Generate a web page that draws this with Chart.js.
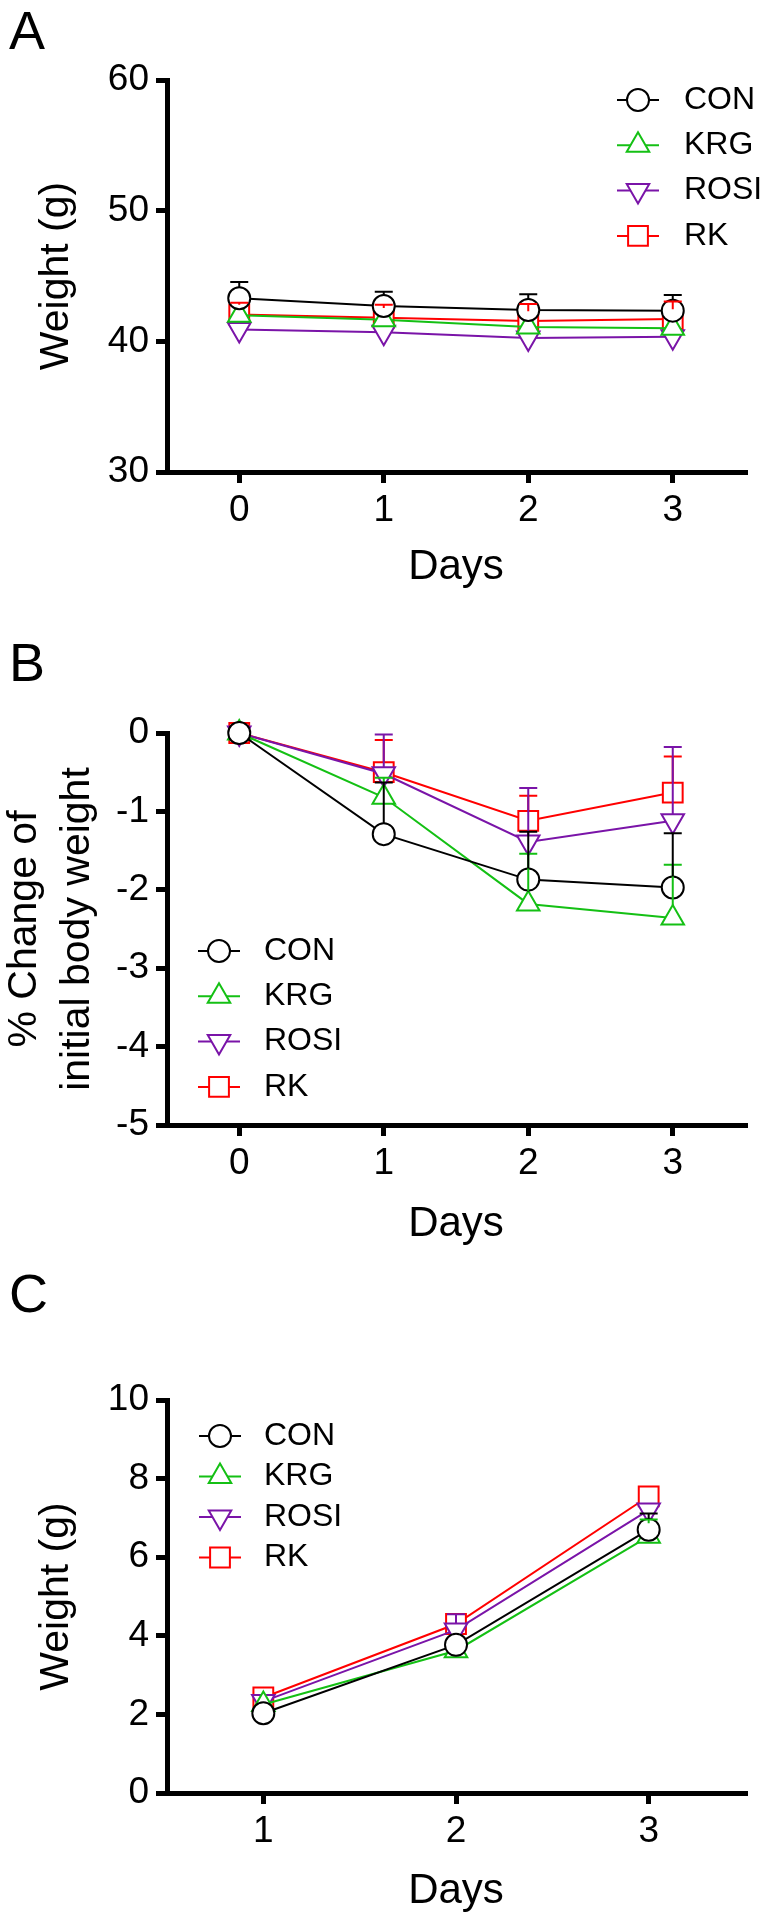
<!DOCTYPE html>
<html lang="en">
<head>
<meta charset="UTF-8">
<title>Body weight of mice</title>
<script src="https://cdn.jsdelivr.net/npm/chart.js@4.4.0/dist/chart.umd.min.js"></script>
<style>
  body { margin: 0; background: #fff; }
  #wrap { position: relative; width: 761px; height: 1921px; }
  canvas { position: absolute; left: 0; }
</style>
</head>
<body>
<div id="wrap">
  <canvas id="chartA" width="761" height="620" style="top:0px"></canvas>
  <canvas id="chartB" width="761" height="640" style="top:620px"></canvas>
  <canvas id="chartC" width="761" height="661" style="top:1260px"></canvas>
</div>
<script>
// groups in legend order
const groups = ['CON', 'KRG', 'ROSI', 'RK'];

// A - body weight (g)
const daysA = [0, 1, 2, 3];
const weightCON = [43.3, 42.7, 42.4, 42.35];
const weightKRG = [42.0, 41.65, 41.1, 41.0];
const weightROSI = [40.9, 40.7, 40.25, 40.35];
const weightRK = [42.05, 41.8, 41.55, 41.7];
const weightSemCON = [1.25, 1.1, 1.2, 1.2];
const weightSemKRG = [0.6, 0.6, 0.6, 0.6];
const weightSemROSI = [0.5, 0.5, 0.5, 0.5];
const weightSemRK = [0.9, 1.0, 1.3, 1.35];
const ticksA = [30, 40, 50, 60];

// B - % change of initial body weight
const daysB = [0, 1, 2, 3];
const changeCON = [0, -1.29, -1.87, -1.97];
const changeKRG = [0, -0.82, -2.18, -2.36];
const changeROSI = [0, -0.52, -1.39, -1.12];
const changeRK = [0, -0.50, -1.12, -0.76];
const changeSemCON = [0, 0.66, 0.61, 0.69];
const changeSemKRG = [0, 0.25, 0.64, 0.68];
const changeSemROSI = [0, 0.50, 0.69, 0.94];
const changeSemRK = [0, 0.41, 0.32, 0.46];
const ticksB = [-5, -4, -3, -2, -1, 0];

// C - weight (g)
const daysC = [1, 2, 3];
const gainCON = [2.03, 3.77, 6.70];
const gainKRG = [2.25, 3.62, 6.53];
const gainROSI = [2.33, 4.15, 7.20];
const gainRK = [2.43, 4.30, 7.55];
const gainSemCON = [0.15, 0.2, 0.41];
const gainSemKRG = [0.1, 0.15, 0.43];
const gainSemROSI = [0.1, 0.4, 0.1];
const gainSemRK = [0.1, 0.15, 0.1];
const ticksC = [0, 2, 4, 6, 8, 10];

// look of each group
const groupColors = ['#000000', '#14c014', '#7a14a8', '#ff0000'];
const groupMarkers = ['circle', 'triangle', 'triangle', 'rect'];
const groupRotation = [0, 0, 180, 0];
const groupRadius = [11, 13, 13, 14];

Chart.defaults.font.family = "'Liberation Sans', Arial, Helvetica, sans-serif";
Chart.defaults.color = '#000';

// how far the marker reaches above its centre
function markerTop(i) {
    const r = groupRadius[i];
    if (groupMarkers[i] === 'rect') return r * Math.SQRT1_2;
    if (groupMarkers[i] === 'triangle' && groupRotation[i] === 180) return r / 2;
    return r;
}

function drawMarker(ctx, i, x, y) {
    const r = groupRadius[i];
    ctx.beginPath();
    if (groupMarkers[i] === 'circle') {
        ctx.arc(x, y, r, 0, Math.PI * 2);
    } else if (groupMarkers[i] === 'rect') {
        const s = r * Math.SQRT1_2;
        ctx.rect(x - s, y - s, 2 * s, 2 * s);
    } else {
        let a = groupRotation[i] * Math.PI / 180;
        for (let k = 0; k < 3; k++) {
            const px = x + Math.sin(a) * r, py = y - Math.cos(a) * r;
            if (k === 0) ctx.moveTo(px, py); else ctx.lineTo(px, py);
            a += 2 * Math.PI / 3;
        }
        ctx.closePath();
    }
    ctx.fill();
    ctx.stroke();
}

// upper SEM bars, drawn from the edge of the marker
const errorBars = {
    id: 'errorBars',
    afterDatasetsDraw(chart) {
        const ctx = chart.ctx;
        const yScale = chart.scales.y;
        ctx.save();
        for (let i = chart.data.datasets.length - 1; i >= 0; i--) {
            const ds = chart.data.datasets[i];
            const meta = chart.getDatasetMeta(i);
            ctx.strokeStyle = ds.borderColor;
            ctx.lineWidth = 2;
            meta.data.forEach((pt, j) => {
                const err = ds.errUp[j];
                if (!err) return;
                const yTop = yScale.getPixelForValue(ds.data[j].y + err);
                const yStart = pt.y - markerTop(i);
                if (yTop >= yStart - 1) return;
                ctx.beginPath();
                ctx.moveTo(pt.x, yStart);
                ctx.lineTo(pt.x, yTop);
                ctx.moveTo(pt.x - 9, yTop);
                ctx.lineTo(pt.x + 9, yTop);
                ctx.stroke();
            });
        }
        ctx.restore();
    }
};

// legend with the line running through the marker
const lineLegend = {
    id: 'lineLegend',
    afterDraw(chart, args, opts) {
        const ctx = chart.ctx;
        ctx.save();
        ctx.font = "32px 'Liberation Sans', Arial, sans-serif";
        ctx.textBaseline = 'middle';
        chart.data.datasets.forEach((ds, i) => {
            const y = opts.y + i * opts.step;
            ctx.strokeStyle = ds.borderColor;
            ctx.lineWidth = 2;
            ctx.beginPath();
            ctx.moveTo(opts.x - 21, y);
            ctx.lineTo(opts.x + 21, y);
            ctx.stroke();
            ctx.fillStyle = '#fff';
            drawMarker(ctx, i, opts.x, y);
            ctx.fillStyle = '#000';
            ctx.fillText(ds.label, opts.textX, y);
        });
        ctx.restore();
    }
};

const panelLetter = {
    id: 'panelLetter',
    afterDraw(chart, args, opts) {
        const ctx = chart.ctx;
        ctx.save();
        ctx.font = "54px 'Liberation Sans', Arial, sans-serif";
        ctx.fillStyle = '#000';
        ctx.textBaseline = 'alphabetic';
        ctx.fillText(opts.text, 9, opts.y);
        ctx.restore();
    }
};

function makeDatasets(days, series, sems) {
    return groups.map((name, i) => ({
        label: name,
        data: days.map((d, j) => ({ x: d, y: series[i][j] })),
        errUp: sems[i],
        borderColor: groupColors[i],
        borderWidth: 2,
        backgroundColor: '#fff',
        pointStyle: groupMarkers[i],
        pointRotation: groupRotation[i],
        pointRadius: groupRadius[i],
        pointBorderWidth: 2,
        pointBackgroundColor: '#fff',
        pointBorderColor: groupColors[i],
        tension: 0,
        clip: false
    }));
}

const axisLook = {
    border: { display: true, width: 5, color: '#000' },
    grid: { display: true, drawOnChartArea: false, drawTicks: true, tickLength: 11, lineWidth: 5, tickWidth: 5, tickColor: '#000' }
};

function makePanel(id, p) {
    return new Chart(document.getElementById(id), {
        type: 'line',
        data: { datasets: makeDatasets(p.days, p.series, p.sems) },
        options: {
            responsive: false,
            animation: false,
            events: [],
            layout: { padding: { top: p.areaTop, right: 3, left: 0, bottom: 0 } },
            plugins: {
                legend: { display: false },
                tooltip: { enabled: false },
                lineLegend: p.legend,
                panelLetter: { text: p.letter, y: p.letterY }
            },
            scales: {
                x: {
                    type: 'linear',
                    min: p.xMin,
                    max: p.xMax,
                    ...axisLook,
                    afterBuildTicks: s => { s.ticks = p.days.map(v => ({ value: v })); },
                    afterFit: s => { s.height = p.xAxisHeight; },
                    ticks: { font: { size: 37 }, padding: 6 },
                    title: { display: true, text: 'Days', font: { size: 42, lineHeight: 1.2 }, padding: { top: 0, bottom: p.xTitlePad } }
                },
                y: {
                    type: 'linear',
                    min: p.yTicks[0],
                    max: p.yTicks[p.yTicks.length - 1],
                    ...axisLook,
                    afterBuildTicks: s => { s.ticks = p.yTicks.map(v => ({ value: v })); },
                    afterFit: s => { s.width = 167; },
                    ticks: { font: { size: 37 }, padding: 7 },
                    title: { display: true, text: p.yTitle, font: { size: 41, lineHeight: p.yTitleLH }, padding: { top: p.yTitlePad, bottom: 0 } }
                }
            }
        },
        plugins: [errorBars, lineLegend, panelLetter]
    });
}

makePanel('chartA', {
    letter: 'A', letterY: 49,
    days: daysA, xMin: -0.5, xMax: 3.5,
    series: [weightCON, weightKRG, weightROSI, weightRK],
    sems: [weightSemCON, weightSemKRG, weightSemROSI, weightSemRK],
    yTicks: ticksA, yTitle: 'Weight (g)', yTitleLH: 1.2, yTitlePad: 32,
    areaTop: 80, xAxisHeight: 148, xTitlePad: 27,
    legend: { x: 638, textX: 684, y: 100, step: 45.3 }
});

makePanel('chartB', {
    letter: 'B', letterY: 61,
    days: daysB, xMin: -0.5, xMax: 3.5,
    series: [changeCON, changeKRG, changeROSI, changeRK],
    sems: [changeSemCON, changeSemKRG, changeSemROSI, changeSemRK],
    yTicks: ticksB, yTitle: ['% Change of', 'initial body weight'], yTitleLH: 1.3, yTitlePad: -2,
    areaTop: 113, xAxisHeight: 135, xTitlePad: 10,
    legend: { x: 219, textX: 264, y: 331, step: 45.3 }
});

makePanel('chartC', {
    letter: 'C', letterY: 52,
    days: daysC, xMin: 0.5, xMax: 3.5,
    series: [gainCON, gainKRG, gainROSI, gainRK],
    sems: [gainSemCON, gainSemKRG, gainSemROSI, gainSemRK],
    yTicks: ticksC, yTitle: 'Weight (g)', yTitleLH: 1.2, yTitlePad: 32,
    areaTop: 140, xAxisHeight: 128, xTitlePad: 4,
    legend: { x: 220, textX: 264, y: 176, step: 40.5 }
});
</script>
</body>
</html>
